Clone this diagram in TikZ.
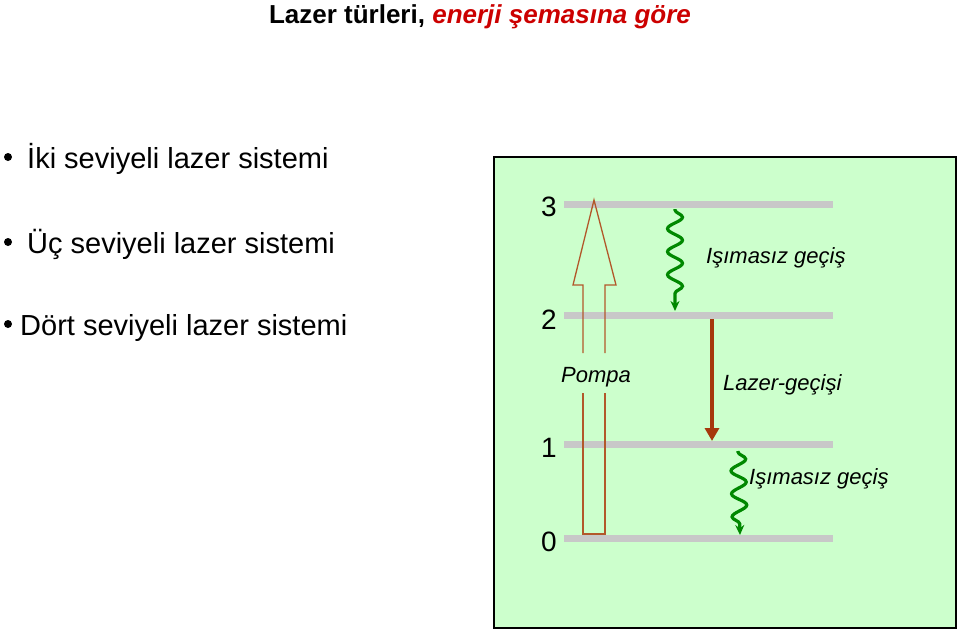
\documentclass[tikz,border=0pt]{standalone}
\usepackage{fontspec}
\setmainfont{Liberation Sans}
\usetikzlibrary{arrows.meta,decorations.pathmorphing}

\definecolor{boxgreen}{RGB}{204,255,204}
\definecolor{levelgray}{RGB}{200,200,200}
\definecolor{pumpbrown}{RGB}{178,88,42}
\definecolor{laserbrown}{RGB}{166,56,12}
\definecolor{wavegreen}{RGB}{0,136,0}
\definecolor{titlered}{RGB}{204,0,0}

\tikzset{
  levelbar/.style={line width=7pt,levelgray},
  item/.style={inner sep=0pt,anchor=base west,font=\fontsize{29}{34}\selectfont},
  levelnum/.style={inner sep=0pt,anchor=base east,font=\fontsize{28}{34}\selectfont},
  remark/.style={inner sep=0pt,anchor=base west,font=\fontsize{22}{26}\selectfont\itshape},
  wavy/.style={wavegreen,line width=3.2pt,decorate,
    decoration={snake,amplitude=7.5pt,segment length=23pt,pre length=1pt,post length=8pt},
    -{Stealth[length=10pt,width=9pt]}},
  pump/.style={pumpbrown,line width=1.3pt,line join=miter},
  laser/.style={laserbrown,line width=4pt,-{Triangle[length=13pt,width=14pt]}}
}

\begin{document}
\begin{tikzpicture}[x=1pt,y=-1pt]
\useasboundingbox (0,0) rectangle (959,632);

% title
\node[inner sep=0pt,anchor=base,font=\fontsize{26}{30}\selectfont\bfseries] (title) at (480,23)
  {Lazer türleri, \textcolor{titlered}{\itshape enerji şemasına göre}};

% list
\fill (8,157) circle (4pt);
\fill (8,242) circle (4pt);
\fill (8,324) circle (4pt);
\node[item] (iki) at (27,168) {İki seviyeli lazer sistemi};
\node[item] (uc) at (27,253) {Üç seviyeli lazer sistemi};
\node[item] (dort) at (20,335) {Dört seviyeli lazer sistemi};

% box
\draw[fill=boxgreen,line width=1.4pt] (494,157) rectangle (956,628);

% levels
\foreach \n/\y in {3/204,2/315,1/444,0/538}{
  \coordinate (lv\n) at (564,\y);
  \draw[levelbar] (lv\n) -- ++(269,0);
}
\node[levelnum] (n3) at (557,216) {3};
\node[levelnum] (n2) at (557,329) {2};
\node[levelnum] (n1) at (557,457) {1};
\node[levelnum] (n0) at (557,551) {0};

% pump
\draw[pump] (583,353) -- (583,285) -- (573,285) -- (594,200) -- (616,285) -- (605,285) -- (605,353);
\draw[pump] (583,393) -- (583,534) -- (605,534) -- (605,393);
\node[remark] (pompa) at (561,382) {Pompa};

% transitions
\coordinate (w1a) at (675,209);
\coordinate (w1b) at (675,311);
\draw[wavy] (w1a) -- (w1b);
\node[remark] (isim1) at (706,263) {Işımasız geçiş};

\coordinate (la) at (712,319);
\coordinate (lb) at (712,441);
\draw[laser] (la) -- (lb);
\node[remark] (lazer) at (723,390) {Lazer-geçişi};

\coordinate (w2a) at (738,451);
\coordinate (w2b) at (740,535);
\draw[wavy] (w2a) -- (w2b);
\node[remark] (isim2) at (749,484) {Işımasız geçiş};

\end{tikzpicture}
\end{document}
